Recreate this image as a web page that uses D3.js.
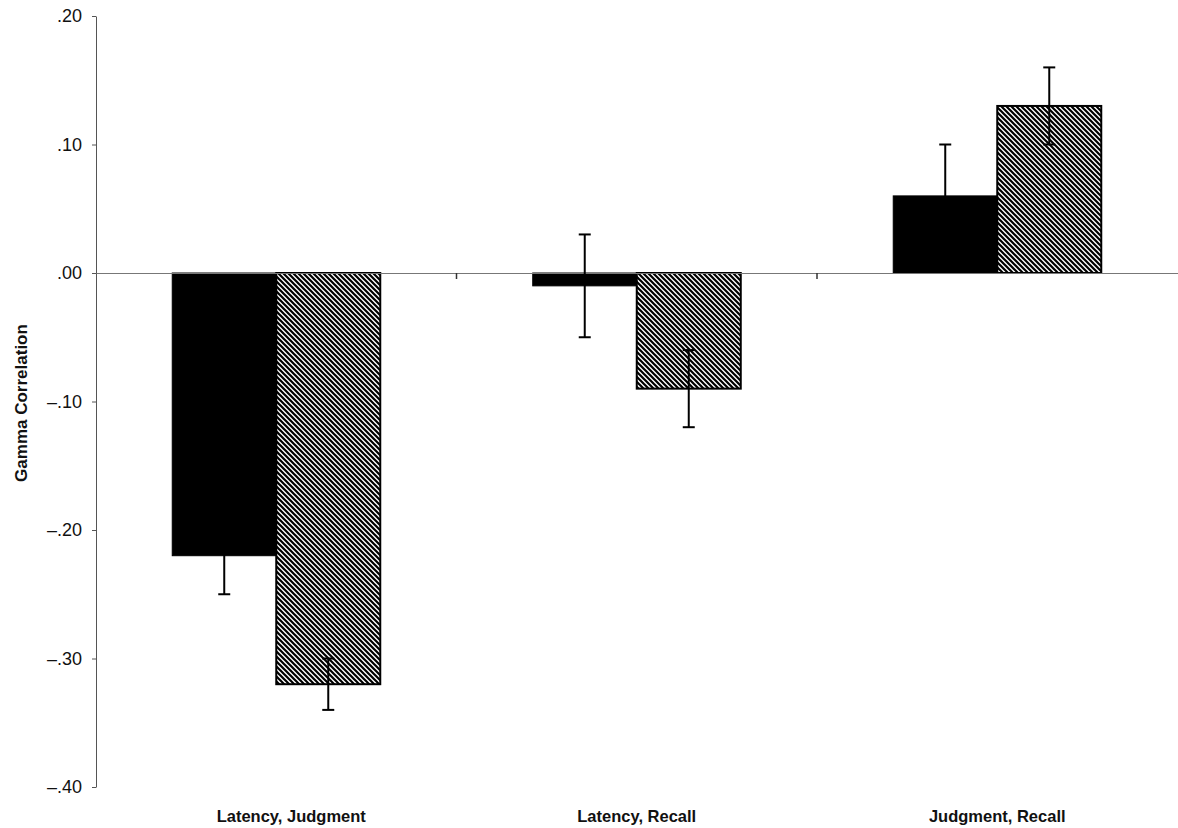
<!DOCTYPE html>
<html>
<head>
<meta charset="utf-8">
<script src="https://cdn.jsdelivr.net/npm/d3@7"></script>
<style>
  html, body { margin: 0; padding: 0; background: #fff; }
  svg { display: block; font-family: Arial, "Liberation Sans", sans-serif; }
</style>
</head>
<body>
<svg id="chart" width="1178" height="828"></svg>
<script>
const categories = ["Latency, Judgment", "Latency, Recall", "Judgment, Recall"];
const seriesNames = ["solid", "hatched"];
const solidValues = [-0.22, -0.01, 0.06];
const solidErrors = [0.03, 0.04, 0.04];
const hatchedValues = [-0.32, -0.09, 0.13];
const hatchedErrors = [0.02, 0.03, 0.03];
const yTicks = [0.20, 0.10, 0.00, -0.10, -0.20, -0.30, -0.40];

(function () {
const svg = d3.select("#chart");
const mLeft = 96, mRight = 1177.5, mTop = 16, mBottom = 787;

const defs = svg.append("defs");
const pat = defs.append("pattern")
  .attr("id", "hatch").attr("patternUnits", "userSpaceOnUse")
  .attr("width", 5).attr("height", 5);
pat.append("rect").attr("width", 5).attr("height", 5).attr("fill", "#fff");
pat.append("path")
  .attr("d", "M0,0 L5,5 M-1,4 L1,6 M4,-1 L6,1")
  .attr("stroke", "#000").attr("stroke-width", 2.2);

const x0 = d3.scaleBand().domain(categories).range([mLeft, mRight]).paddingInner(0).paddingOuter(0);
const x1 = d3.scaleBand().domain(seriesNames).range([0, x0.bandwidth()]).paddingInner(0).paddingOuter(0.733);
const y = d3.scaleLinear().domain([-0.4, 0.2]).range([mBottom, mTop]);

const fmt = v => {
  if (Math.abs(v) < 1e-9) return ".00";
  const s = Math.abs(v).toFixed(2).replace(/^0/, "");
  return v < 0 ? "\u2013" + s : s;
};

// y axis
const yAxis = d3.axisLeft(y).tickValues(yTicks).tickSize(4).tickSizeOuter(0).tickFormat(fmt);
const gy = svg.append("g").attr("transform", `translate(${mLeft},0)`).call(yAxis);
gy.select(".domain").attr("stroke", "#555").attr("stroke-width", 1);
gy.selectAll(".tick line").attr("stroke", "#555");
gy.selectAll(".tick text").attr("font-size", 18).attr("fill", "#111").attr("x", -14)
  .attr("font-family", "Arial, 'Liberation Sans', sans-serif");

// data rows
const rows = categories.map((c, i) => [
  { cat: c, s: "solid", v: solidValues[i], e: solidErrors[i] },
  { cat: c, s: "hatched", v: hatchedValues[i], e: hatchedErrors[i] }
]).flat();

// bars
svg.append("g").selectAll("rect").data(rows).join("rect")
  .attr("x", d => x0(d.cat) + x1(d.s))
  .attr("width", x1.bandwidth())
  .attr("y", d => y(Math.max(0, d.v)))
  .attr("height", d => Math.abs(y(d.v) - y(0)))
  .attr("fill", d => d.s === "solid" ? "#000" : "url(#hatch)")
  .attr("stroke", "#000")
  .attr("stroke-width", d => d.s === "solid" ? 1 : 2);

// x axis line at zero
const xAxis = d3.axisBottom(x0).tickSize(0).tickFormat("");
const gx = svg.append("g").attr("transform", `translate(0,${y(0)})`).call(xAxis);
gx.select(".domain").attr("stroke", "#777").attr("stroke-width", 1.2);
const bounds = categories.slice(1).map(c => x0(c));
gx.selectAll(".bnd").data(bounds).join("line").attr("class", "bnd")
  .attr("x1", d => d).attr("x2", d => d).attr("y1", 0).attr("y2", 6)
  .attr("stroke", "#333").attr("stroke-width", 1.5);

// error bars
const cap = 6;
const eg = svg.append("g").attr("stroke", "#000").attr("stroke-width", 2);
rows.forEach(d => {
  const cx = x0(d.cat) + x1(d.s) + x1.bandwidth() / 2;
  const y1 = y(d.v + d.e), y2 = y(d.v - d.e);
  eg.append("line").attr("x1", cx).attr("x2", cx).attr("y1", y1).attr("y2", y2);
  eg.append("line").attr("x1", cx - cap).attr("x2", cx + cap).attr("y1", y1).attr("y2", y1);
  eg.append("line").attr("x1", cx - cap).attr("x2", cx + cap).attr("y1", y2).attr("y2", y2);
});

// category labels
svg.append("g").selectAll("text").data(categories).join("text")
  .attr("x", (d, i) => x0(d) + x0.bandwidth() / 2 + (i === 0 ? 15 : 0))
  .attr("y", 822)
  .attr("text-anchor", "middle")
  .attr("font-size", 16.5)
  .attr("font-weight", "bold")
  .attr("fill", "#111")
  .text(d => d);

// y label
svg.append("text")
  .attr("transform", "translate(27,403) rotate(-90)")
  .attr("text-anchor", "middle")
  .attr("font-size", 17)
  .attr("font-weight", "bold")
  .attr("fill", "#111")
  .text("Gamma Correlation");
})();
</script>
</body>
</html>
